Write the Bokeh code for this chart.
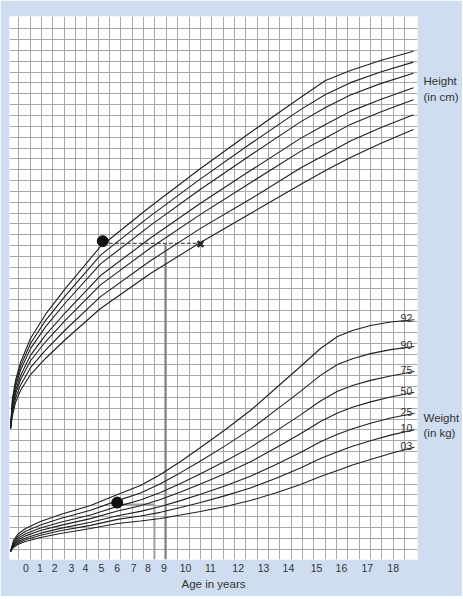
from bokeh.plotting import figure
from bokeh.models import FixedTicker, CustomJSTickFormatter, LinearAxis, Range1d
from bokeh.core.properties import value
from bokeh.embed import file_html
from bokeh.resources import INLINE

# ---------------- data (chart grid units: 1 unit = one grid square) ----------------
age_labels = [str(a) for a in range(19)]
age_tick_x = [0.62, 1.85, 3.15, 4.64, 5.88, 7.29, 8.67, 10.13, 11.37, 12.78,
              14.69, 16.89, 19.33, 21.56, 23.76, 26.23, 28.43, 30.70, 32.99]

height_x = [-0.73, -0.56, -0.29, 0.15, 1.03, 2.35, 4.11, 7.20, 11.60, 16.01,
            20.41, 24.82, 27.02, 29.22, 31.87, 34.77]
h92 = [11.13, 13.90, 15.56, 17.22, 19.43, 21.65, 24.05, 27.92, 31.61, 35.11, 38.43, 41.66, 43.23, 44.15, 45.08, 45.93]
h90 = [11.13, 13.68, 15.27, 16.86, 18.97, 21.08, 23.39, 27.12, 30.74, 34.15, 37.39, 40.54, 41.94, 43.03, 44.01, 44.92]
h75 = [11.13, 13.46, 14.99, 16.50, 18.50, 20.51, 22.73, 26.31, 29.87, 33.20, 36.34, 39.41, 40.74, 41.90, 42.94, 43.90]
h50 = [11.13, 13.16, 14.61, 16.00, 17.88, 19.74, 21.83, 25.24, 28.70, 31.90, 34.92, 37.89, 39.17, 40.38, 41.48, 42.56]
h25 = [11.13, 12.93, 14.31, 15.62, 17.38, 19.13, 21.13, 24.38, 27.78, 30.88, 33.80, 36.69, 37.93, 39.18, 40.33, 41.45]
h10 = [11.13, 12.63, 13.92, 15.13, 16.74, 18.36, 20.24, 23.29, 26.60, 29.59, 32.29, 35.16, 36.41, 37.65, 38.88, 40.07]
h03 = [11.13, 12.33, 13.53, 14.64, 16.11, 17.59, 19.34, 22.20, 25.43, 28.29, 30.96, 33.64, 34.93, 36.13, 37.42, 38.71]

weight_x = [-0.73, -0.47, -0.11, 0.59, 1.91, 3.67, 6.32, 8.70, 10.72, 12.48, 14.25,
            16.01, 18.21, 20.41, 22.62, 24.82, 26.58, 28.08, 29.40, 30.99, 32.75, 34.86]
w92 = [-0.21, 0.80, 1.36, 1.91, 2.55, 3.20, 4.03, 5.05, 5.88, 6.89, 8.09, 9.38, 11.04, 12.79, 14.82, 16.85, 18.51, 19.62, 20.17, 20.63, 20.96, 21.16]
w90 = [-0.21, 0.66, 1.16, 1.66, 2.24, 2.83, 3.59, 4.48, 5.18, 6.04, 7.06, 8.14, 9.55, 11.05, 12.80, 14.56, 16.03, 17.03, 17.57, 18.04, 18.41, 18.70]
w75 = [-0.21, 0.54, 0.98, 1.42, 1.95, 2.48, 3.16, 3.95, 4.53, 5.23, 6.07, 6.96, 8.13, 9.39, 10.87, 12.39, 13.67, 14.56, 15.09, 15.57, 15.98, 16.39]
w50 = [-0.21, 0.43, 0.83, 1.23, 1.72, 2.20, 2.82, 3.52, 4.01, 4.58, 5.28, 6.01, 6.99, 8.06, 9.33, 10.64, 11.78, 12.57, 13.10, 13.59, 14.04, 14.48]
w25 = [-0.21, 0.33, 0.68, 1.03, 1.48, 1.92, 2.48, 3.09, 3.49, 3.93, 4.48, 5.07, 5.86, 6.73, 7.79, 8.91, 9.90, 10.60, 11.11, 11.61, 12.10, 12.54]
w10 = [-0.21, 0.25, 0.56, 0.88, 1.28, 1.70, 2.20, 2.75, 3.06, 3.40, 3.85, 4.31, 4.94, 5.65, 6.53, 7.49, 8.36, 8.99, 9.50, 10.01, 10.52, 11.01]
w03 = [-0.21, 0.16, 0.43, 0.71, 1.08, 1.45, 1.91, 2.37, 2.60, 2.83, 3.15, 3.48, 3.94, 4.49, 5.18, 5.97, 6.71, 7.26, 7.77, 8.27, 8.83, 9.41]
percentile_labels = ["92", "90", "75", "50", "25", "10", "03"]

# side captions (right margin) and where they sit on the vertical grid scale
side_labels = ["Height", "(in cm)", "Weight", "(in kg)"]
side_label_y = [43.14, 41.66, 12.06, 10.76]

# plotted child measurements and reading lines
height_point = [7.40, 28.41]
height_cross = [16.01, 28.15]
height_dash_y = 28.2
height_read_x = 12.9
weight_point = [8.67, 4.30]
weight_read = [11.95, 4.12]

# ---------------- styling ----------------
FONT = "Liberation Sans"
TEXT = "#333333"
BLUE = "#cfddf0"
INK = "#1e1e1e"
X0, X1 = -0.82, 35.13
Y0, Y1 = -0.95, 49.13

p = figure(frame_width=408, frame_height=543, output_backend="svg", toolbar_location=None,
           x_range=Range1d(X0, X1), y_range=Range1d(Y0, Y1),
           y_axis_location=None,
           min_border_left=9, min_border_right=43, min_border_top=16, min_border_bottom=37)
p.background_fill_color = "white"
p.border_fill_color = BLUE
p.outline_line_color = None

p.xgrid.ticker = FixedTicker(ticks=list(range(0, 35)))
p.ygrid.ticker = FixedTicker(ticks=list(range(0, 49)))
for g in (p.xgrid, p.ygrid):
    g.grid_line_color = "#a8a8a8"
    g.grid_line_width = 1

LOOKUP = """
const i = pos.findIndex(t => Math.abs(t - tick) < 1e-6);
return i >= 0 ? lab[i] : "";
"""

ax = p.xaxis[0]
ax.ticker = FixedTicker(ticks=age_tick_x)
ax.formatter = CustomJSTickFormatter(args=dict(pos=age_tick_x, lab=age_labels), code=LOOKUP)
ax.axis_line_color = None
ax.major_tick_line_color = None
ax.minor_tick_line_color = None
ax.major_tick_out = 0
ax.major_tick_in = 0
ax.major_label_standoff = 4
ax.major_label_text_font = FONT
ax.major_label_text_font_size = "10.5px"
ax.major_label_text_color = TEXT
ax.axis_label = "Age in years"
ax.axis_label_text_font = FONT
ax.axis_label_text_font_size = "11.5px"
ax.axis_label_text_font_style = "normal"
ax.axis_label_text_color = TEXT
ax.axis_label_standoff = 3

rax = LinearAxis(ticker=FixedTicker(ticks=side_label_y),
                 formatter=CustomJSTickFormatter(args=dict(pos=side_label_y, lab=side_labels), code=LOOKUP))
rax.axis_line_color = None
rax.major_tick_line_color = None
rax.minor_tick_line_color = None
rax.major_tick_out = 0
rax.major_tick_in = 0
rax.major_label_standoff = 6
rax.major_label_text_font = FONT
rax.major_label_text_font_size = "11.5px"
rax.major_label_text_color = TEXT
p.add_layout(rax, "right")

# reading lines
p.line([weight_point[0], weight_read[0], weight_read[0]], [weight_read[1], weight_read[1], Y0],
       line_color="#a0a0a0", line_width=2)
p.line([height_read_x, height_read_x], [height_cross[1], Y0], line_color="#7a7a7a", line_width=1.5)
p.line([height_point[0], height_cross[0]], [height_dash_y, height_dash_y], line_color="#555555",
       line_width=1.2, line_dash="4 2")

for ys in (h92, h90, h75, h50, h25, h10, h03):
    p.line(height_x, ys, line_color=INK, line_width=1.1)
weights = (w92, w90, w75, w50, w25, w10, w03)
for ys in weights:
    p.line(weight_x, ys, line_color=INK, line_width=1.1)

p.text(x=[weight_x[-1]] * 7, y=[w[-1] for w in weights], text=percentile_labels,
       x_offset=-8, y_offset=-1.5, text_align="center", text_baseline="alphabetic",
       text_font=value(FONT), text_font_size="10.5px", text_color=TEXT)

p.scatter([height_point[0], weight_point[0]], [height_point[1], weight_point[1]],
          marker="circle", size=11, fill_color="#111111", line_color="#111111")
p.scatter([height_cross[0]], [height_cross[1]], marker="x", size=8,
          line_color="#222222", line_width=2.5)

open("out.html", "w").write(file_html(p, INLINE, title="Growth chart").replace(
    "<body>", '<body style="background-color:#cfddf0;">', 1))
